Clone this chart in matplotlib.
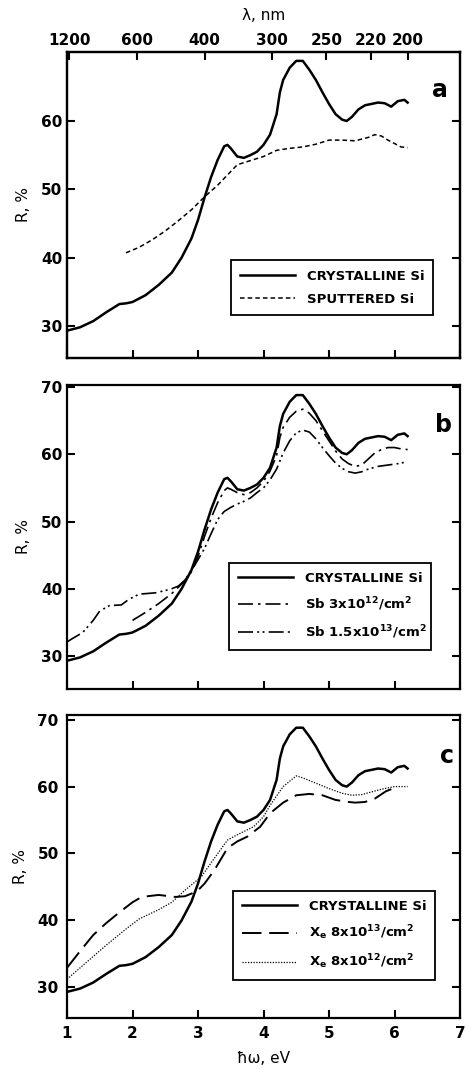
import numpy as np
import matplotlib
matplotlib.use("Agg")
import matplotlib.pyplot as plt

plt.rcParams['font.family'] = ['DejaVu Sans']
plt.rcParams['font.weight'] = 'bold'
plt.rcParams['mathtext.fontset'] = 'custom'
plt.rcParams['mathtext.rm'] = 'DejaVu Sans:bold'
plt.rcParams['mathtext.default'] = 'rm'

# crystalline Si (same curve in all three panels)
e_cry = [1.0, 1.2, 1.4, 1.6, 1.8, 1.9, 2.0, 2.2, 2.4, 2.6, 2.75, 2.9, 3.0, 3.1, 3.2, 3.3,
         3.4, 3.45, 3.5, 3.6, 3.7, 3.8, 3.9, 4.0, 4.1, 4.2, 4.25, 4.3, 4.4, 4.5, 4.6, 4.7,
         4.8, 4.9, 5.0, 5.1, 5.2, 5.27, 5.35, 5.45, 5.55, 5.65, 5.75, 5.85, 5.95, 6.05, 6.15, 6.2]
r_cry = [29.3, 29.8, 30.7, 32.0, 33.2, 33.3, 33.5, 34.5, 36.0, 37.8, 40.0, 42.8, 45.5, 48.8, 51.8, 54.3,
         56.3, 56.5, 56.0, 54.8, 54.6, 55.0, 55.5, 56.5, 58.0, 61.0, 64.2, 66.0, 67.8, 68.8, 68.8, 67.5,
         66.0, 64.2, 62.5, 61.0, 60.2, 60.0, 60.6, 61.7, 62.3, 62.5, 62.7, 62.6, 62.1, 62.9, 63.1, 62.7]

# panel a: sputtered Si
e_sput = [1.9, 2.1, 2.3, 2.5, 2.7, 2.9, 3.1, 3.3, 3.5, 3.6, 3.8, 4.0, 4.2, 4.4, 4.6, 4.8, 5.0,
          5.2, 5.4, 5.6, 5.7, 5.8, 5.9, 6.0, 6.1, 6.2]
r_sput = [40.7, 41.5, 42.6, 43.9, 45.4, 47.0, 48.9, 50.6, 52.6, 53.6, 54.2, 54.8, 55.7, 56.0, 56.2, 56.6, 57.2,
          57.2, 57.1, 57.6, 58.0, 57.8, 57.2, 56.7, 56.2, 56.1]

# panel b: Sb implanted
e_sb1 = [2.0, 2.2, 2.4, 2.6, 2.75, 2.9, 3.0, 3.1, 3.2, 3.3, 3.4, 3.45, 3.5, 3.6, 3.7, 3.8, 3.9, 4.0,
         4.1, 4.2, 4.25, 4.3, 4.4, 4.5, 4.6, 4.7, 4.8, 4.9, 5.0, 5.1, 5.2, 5.3, 5.4, 5.5, 5.6, 5.7,
         5.8, 5.9, 6.0, 6.1, 6.2]
r_sb1 = [35.3, 36.5, 37.8, 39.3, 40.7, 42.5, 44.8, 47.8, 50.5, 52.8, 54.6, 55.0, 54.8, 54.3, 54.0, 54.3, 55.0, 56.0,
         57.5, 59.8, 62.5, 64.0, 65.5, 66.4, 66.7, 66.1, 65.0, 63.5, 62.0, 60.5, 59.3, 58.6, 58.2, 58.4, 59.3, 60.2,
         60.7, 61.0, 61.0, 60.8, 60.7]
e_sb2 = [1.0, 1.1, 1.24, 1.4, 1.5, 1.65, 1.83, 1.94, 2.1, 2.35, 2.57, 2.7, 2.8, 2.95, 3.1, 3.2, 3.3, 3.4,
         3.5, 3.6, 3.7, 3.8, 3.9, 4.0, 4.1, 4.2, 4.3, 4.4, 4.5, 4.6, 4.7, 4.8, 4.9, 5.0, 5.1, 5.2, 5.3,
         5.4, 5.5, 5.6, 5.75, 5.9, 6.05, 6.2]
r_sb2 = [32.1, 32.7, 33.5, 35.3, 36.7, 37.5, 37.6, 38.4, 39.2, 39.4, 39.9, 40.4, 41.3, 43.5, 46.0, 48.2, 50.3, 51.5,
         52.1, 52.6, 53.0, 53.5, 54.3, 55.0, 56.2, 57.8, 60.2, 62.0, 63.2, 63.6, 63.3, 62.3, 61.0, 59.8, 58.7, 57.9, 57.4,
         57.2, 57.4, 57.8, 58.2, 58.4, 58.6, 58.9]

# panel c: Xe implanted
e_xe1 = [1.0, 1.2, 1.4, 1.6, 1.8, 2.0, 2.14, 2.4, 2.65, 2.8, 2.9, 3.0, 3.1, 3.25, 3.45, 3.6, 3.75, 3.95,
         4.1, 4.3, 4.5, 4.7, 4.9, 5.1, 5.3, 5.4, 5.55, 5.7, 5.87, 6.0]
r_xe1 = [32.9, 35.4, 37.8, 39.6, 41.2, 42.7, 43.5, 43.8, 43.5, 43.6, 44.0, 44.5, 45.5, 47.5, 50.8, 51.8, 52.5, 54.0,
         56.0, 57.6, 58.7, 58.9, 58.7, 58.0, 57.7, 57.6, 57.7, 58.2, 59.3, 59.8]
e_xe2 = [1.0, 1.2, 1.4, 1.6, 1.9, 2.1, 2.4, 2.6, 2.8, 3.0, 3.05, 3.2, 3.45, 3.6, 3.85, 4.0, 4.1, 4.2,
         4.3, 4.5, 4.6, 4.75, 5.0, 5.2, 5.35, 5.5, 5.65, 5.8, 6.0, 6.2]
r_xe2 = [31.2, 32.9, 34.6, 36.3, 38.7, 40.2, 41.6, 42.7, 44.5, 46.1, 46.5, 48.6, 52.0, 52.8, 54.0, 55.5, 57.2, 58.6,
         60.0, 61.6, 61.3, 60.7, 59.7, 59.0, 58.7, 58.8, 59.2, 59.6, 60.0, 60.0]

wl_ticks = [1200, 600, 400, 300, 250, 220, 200]

W, H = 466, 1069
fig = plt.figure(figsize=(W / 100, H / 100), dpi=100)

def make_ax(top, bottom, ylim, yticks):
    ax = fig.add_axes([67 / W, 1 - bottom / H, 393 / W, (bottom - top) / H])
    ax.set_xlim(1, 7)
    ax.set_ylim(*ylim)
    ax.set_yticks(yticks)
    ax.set_xticks([1, 2, 3, 4, 5, 6, 7])
    ax.tick_params(direction='in', length=6, width=1.5, labelsize=11,
                   right=True, top=False, labelbottom=False)
    for s in ax.spines.values():
        s.set_linewidth(1.6)
    ax.set_ylabel('R, %', fontsize=11, labelpad=7)
    return ax

leg_kw = dict(loc='lower left', mode='expand', fontsize=9.5, handlelength=4.2,
              fancybox=False, edgecolor='black', framealpha=1, borderpad=0.7,
              labelspacing=0.8, handletextpad=0.9)

# panel a
ax1 = make_ax(52, 358, (25.3, 70.1), [30, 40, 50, 60])
ax1.plot(e_cry, r_cry, color='black', lw=1.8, label='CRYSTALLINE Si')
ax1.plot(e_sput, r_sput, color='black', lw=1.1, ls=(0, (3, 2)), label='SPUTTERED Si')
leg = ax1.legend(bbox_to_anchor=(0.40, 0.118, 0.548, 0.2), **leg_kw)
leg.get_frame().set_linewidth(1.3)
ax1.text(0.97, 0.875, 'a', transform=ax1.transAxes, fontsize=17, ha='right', va='center')
top = ax1.twiny()
top.set_xlim(ax1.get_xlim())
top.set_xticks([1240.0 / w for w in wl_ticks])
top.set_xticklabels([str(w) for w in wl_ticks])
top.tick_params(direction='in', length=6, width=1.5, labelsize=11, pad=3)
top.set_xlabel('λ, nm', fontsize=11, labelpad=9)
for s in top.spines.values():
    s.set_linewidth(1.6)

# panel b
ax2 = make_ax(385, 689, (25.1, 70.3), [30, 40, 50, 60, 70])
ax2.plot(e_cry, r_cry, color='black', lw=1.8, label='CRYSTALLINE Si')
ax2.plot(e_sb1, r_sb1, color='black', lw=1.2, ls=(0, (9, 3, 1.5, 3)),
         label='Sb 3x10$^{12}$/cm$^2$')
ax2.plot(e_sb2, r_sb2, color='black', lw=1.2, ls=(0, (9, 2.5, 1.2, 2, 1.2, 2.5)),
         label='Sb 1.5x10$^{13}$/cm$^2$')
leg = ax2.legend(bbox_to_anchor=(0.395, 0.105, 0.548, 0.2), **leg_kw)
leg.get_frame().set_linewidth(1.3)
ax2.text(0.98, 0.87, 'b', transform=ax2.transAxes, fontsize=17, ha='right', va='center')

# panel c
ax3 = make_ax(715, 1018, (25.4, 70.7), [30, 40, 50, 60, 70])
ax3.plot(e_cry, r_cry, color='black', lw=1.8, label='CRYSTALLINE Si')
ax3.plot(e_xe1, r_xe1, color='black', lw=1.4, ls=(0, (10, 4)),
         label='X$_{e}$ 8x10$^{13}$/cm$^2$')
ax3.plot(e_xe2, r_xe2, color='black', lw=0.9, ls=(0, (1, 1.2)),
         label='X$_{e}$ 8x10$^{12}$/cm$^2$')
leg = ax3.legend(bbox_to_anchor=(0.405, 0.102, 0.548, 0.2), **leg_kw)
leg.get_frame().set_linewidth(1.3)
ax3.text(0.985, 0.865, 'c', transform=ax3.transAxes, fontsize=17, ha='right', va='center')
ax3.tick_params(labelbottom=True, pad=6)
ax3.set_xlabel('ħω, eV', fontsize=11, labelpad=7)

fig.savefig('out.png', dpi=100)
